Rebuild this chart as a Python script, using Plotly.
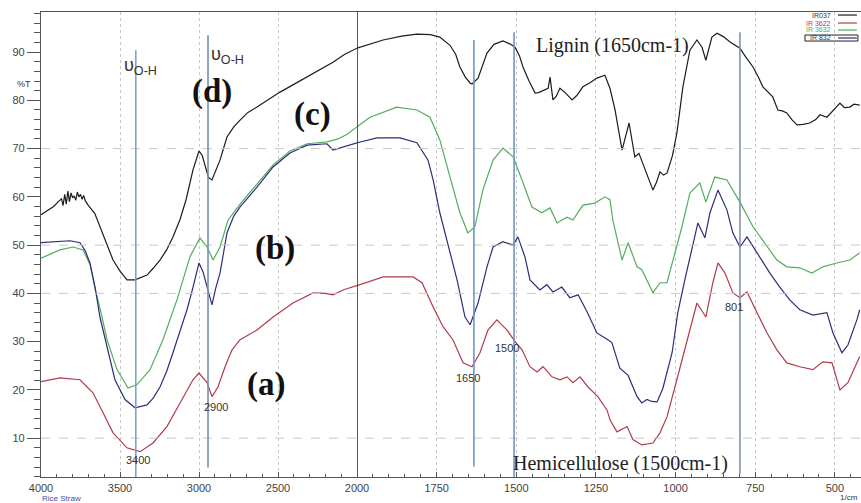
import plotly.graph_objects as go

# ---------------- data (wavenumber cm-1, %T) ----------------
wn_black = [4000, 3960, 3920, 3890, 3870, 3860, 3850, 3840, 3830, 3820, 3810, 3800, 3790, 3780, 3770, 3760,
            3750, 3740, 3730, 3720, 3702, 3660, 3627, 3585, 3544, 3500, 3456, 3405, 3370, 3329, 3290, 3247,
            3205, 3165, 3120, 3082, 3038, 3015, 3000, 2980, 2960, 2940, 2918, 2895, 2867, 2823, 2780, 2740,
            2690, 2633, 2560, 2487, 2400, 2316, 2230, 2152, 2080, 2000,
            1918, 1860, 1812, 1770, 1740, 1708, 1690, 1677, 1660, 1645, 1639, 1620, 1605, 1592, 1570, 1542,
            1520, 1504, 1490, 1479, 1460, 1441, 1430, 1416, 1400, 1394, 1385, 1375, 1363, 1345, 1325, 1310,
            1291, 1270, 1247, 1222, 1206, 1190, 1168, 1146, 1128, 1115, 1103, 1085, 1071, 1060, 1049, 1038,
            1027, 1010, 996, 977, 955, 933, 917, 905, 895, 886, 870, 850, 829, 815, 798, 780, 757, 740, 726,
            695, 679, 665, 651, 635, 619, 600, 579, 560, 547, 525, 505, 484, 470, 453, 440, 422]
t_black = [56.3, 57.2, 58.0, 59.0, 59.6, 58.2, 60.5, 58.5, 61.2, 59.0, 60.8, 59.8, 60.2, 59.3, 61.0, 60.0,
           60.5, 59.5, 60.3, 59.2, 58.3, 56.6, 53.8, 50.5, 46.9, 44.6, 42.8, 42.8, 43.2, 43.8, 45.2, 46.9,
           49.0, 51.7, 55.3, 59.4, 65.6, 68.3, 69.5, 68.6, 66.0, 64.0, 63.5, 65.2, 67.6, 72.4, 74.5, 75.9,
           77.5, 78.6, 80.2, 81.7, 83.3, 84.8, 86.4, 87.9, 89.5, 90.8,
           92.5, 93.3, 93.7, 93.6, 93.1, 91.4, 89.5, 86.9, 84.8, 83.6, 83.4, 84.6, 87.5, 89.8, 91.6, 92.3,
           91.7, 91.0, 89.2, 86.9, 84.0, 81.5, 81.6, 82.1, 82.5, 84.8, 80.1, 80.8, 82.5, 81.5, 80.1, 81.0,
           82.8, 83.6, 84.6, 85.2, 82.5, 78.0, 69.7, 75.3, 68.3, 69.0, 67.0, 64.0, 61.4, 63.0, 65.2, 64.5,
           64.9, 68.5, 73.2, 82.8, 90.4, 92.5, 91.0, 88.3, 91.0, 93.1, 93.9, 93.2, 92.1, 91.5, 90.8, 89.0,
           86.9, 84.8, 82.8, 80.7, 78.0, 77.8, 77.4, 76.0, 74.9, 75.0, 75.3, 76.0, 77.0, 76.5, 78.0, 79.4,
           78.5, 78.6, 79.2, 79.0]

wn_blue = [4000, 3900, 3816, 3753, 3720, 3690, 3658, 3627, 3582, 3532, 3468, 3405, 3329, 3290, 3247, 3205,
           3165, 3120, 3076, 3040, 3000, 2975, 2949, 2918, 2895, 2867, 2823, 2780, 2740, 2633, 2531, 2424,
           2316, 2190, 2152, 2108, 2000,
           1937, 1865, 1812, 1777, 1761, 1740, 1718, 1686, 1661, 1645, 1620, 1592, 1573, 1542, 1510, 1495,
           1473, 1457, 1426, 1404, 1385, 1357, 1332, 1306, 1278, 1247, 1215, 1200, 1175, 1149, 1121, 1106,
           1090, 1075, 1058, 1040, 1011, 993, 971, 946, 930, 908, 892, 867, 839, 820, 798, 776, 745, 704,
           673, 641, 610, 569, 525, 506, 478, 459, 431, 422]
t_blue = [50.5, 50.8, 50.9, 50.5, 48.8, 46.3, 41.3, 35.1, 28.9, 22.1, 18.0, 16.3, 16.9, 18.3, 20.6, 23.8,
          27.7, 32.0, 36.6, 41.0, 46.3, 44.5, 41.3, 37.6, 41.0, 44.2, 52.5, 56.0, 57.9, 62.0, 66.2, 69.1,
          70.7, 71.0, 69.7, 70.1, 71.2,
          72.2, 72.2, 71.2, 67.6, 63.5, 56.7, 51.1, 42.8, 35.1, 33.5, 38.0, 45.5, 49.6, 50.7, 50.0, 51.7,
          47.6, 42.8, 40.7, 41.8, 40.3, 41.3, 39.1, 39.7, 36.2, 31.8, 30.5, 29.8, 24.5, 23.0, 18.6, 17.3,
          18.0, 17.6, 17.5, 20.3, 27.7, 36.0, 42.8, 49.6, 54.6, 51.5, 56.7, 61.4, 57.3, 52.5, 49.6, 51.7,
          48.4, 44.2, 41.3, 38.6, 36.6, 35.5, 36.0, 31.8, 27.7, 29.3, 34.5, 36.6]

wn_green = [4000, 3880, 3797, 3734, 3690, 3658, 3620, 3582, 3519, 3449, 3392, 3310, 3228, 3139, 3057, 2994,
            2949, 2911, 2867, 2816, 2740, 2633, 2531, 2424, 2316, 2190, 2120, 2060, 2000,
            1959, 1875, 1812, 1771, 1740, 1708, 1677, 1652, 1630, 1605, 1573, 1542, 1510, 1482, 1451, 1420,
            1394, 1372, 1341, 1322, 1291, 1253, 1222, 1206, 1197, 1168, 1149, 1121, 1106, 1071, 1049, 1027,
            1008, 980, 955, 924, 905, 877, 839, 798, 757, 713, 682, 651, 610, 572, 538, 494, 453, 422]
t_green = [47.3, 49.0, 49.6, 49.0, 46.0, 41.0, 36.0, 30.4, 24.2, 20.4, 21.1, 24.2, 30.4, 38.7, 47.6, 51.5,
           49.6, 46.9, 49.6, 55.2, 58.5, 62.6, 66.6, 69.5, 71.0, 71.4, 72.0, 73.0, 74.5,
           76.5, 78.6, 78.0, 76.5, 71.8, 64.1, 56.7, 52.5, 53.8, 61.4, 67.6, 70.1, 68.3, 63.5, 57.9, 56.7,
           57.7, 54.6, 55.8, 55.2, 58.3, 58.7, 60.0, 59.4, 55.2, 46.9, 50.5, 45.5, 44.9, 40.1, 42.2, 42.2,
           46.9, 53.8, 60.8, 62.9, 58.9, 64.1, 63.5, 58.9, 53.8, 49.6, 46.9, 45.5, 45.3, 44.2, 45.5, 46.3,
           46.9, 48.4]

wn_red = [4000, 3880, 3753, 3671, 3608, 3544, 3456, 3373, 3291, 3203, 3120, 3038, 3000, 2949, 2918, 2880,
          2835, 2791, 2740, 2633, 2531, 2405, 2278, 2200, 2152, 2080, 2000,
          1918, 1824, 1796, 1761, 1730, 1699, 1667, 1639, 1614, 1589, 1561, 1529, 1504, 1482, 1457, 1435,
          1416, 1388, 1363, 1341, 1322, 1300, 1275, 1244, 1215, 1206, 1184, 1152, 1134, 1106, 1071, 1049,
          1027, 996, 964, 933, 905, 883, 867, 845, 820, 798, 776, 745, 713, 682, 651, 610, 569, 538, 509,
          484, 459, 422]
t_red = [21.7, 22.5, 22.1, 19.4, 15.3, 11.1, 8.0, 7.2, 9.0, 12.4, 17.3, 22.1, 23.5, 21.5, 18.6, 20.6,
         24.8, 28.3, 30.4, 32.4, 35.1, 38.0, 40.1, 40.0, 39.7, 40.8, 41.6,
         43.4, 43.4, 42.2, 37.2, 33.1, 30.4, 25.6, 24.8, 27.7, 32.4, 34.5, 32.4, 30.0, 28.3, 24.8, 23.7,
         24.8, 22.7, 22.1, 22.7, 21.5, 22.7, 20.6, 18.6, 15.8, 13.8, 11.3, 12.4, 9.7, 8.6, 9.0, 11.1,
         14.4, 22.1, 30.4, 38.0, 35.1, 42.2, 46.3, 44.2, 40.1, 39.1, 40.3, 36.0, 31.8, 28.3, 25.6, 24.8,
         24.2, 25.8, 25.6, 20.0, 21.5, 26.9]

series_names = ["IR037", "IR 3622", "IR 3632", "IR 832"]
x_ticks_left = [4000, 3500, 3000, 2500]
x_ticks_right = [2000, 1750, 1500, 1250, 1000, 750, 500]
y_ticks = [10, 20, 30, 40, 50, 60, 70, 80, 90]
marker_lines = [(3400, "x"), (2943, "x"), (1633, "x2"), (1507, "x2"), (798, "x2")]
peak_labels = [("3400", 3386, 5.5, "x"), ("2900", 2892, 16.5, "x"), ("1650", 1652, 22.5, "x2"),
               ("1500", 1529, 28.7, "x2"), ("801", 818, 37.2, "x2")]
curve_labels = [("(d)", 2918, 81.9), ("(c)", 2279, 77.0), ("(b)", 2519, 49.4), ("(a)", 2576, 21.1)]

SPLIT = 2000
colors = {"IR037": "#1c1c1c", "IR 3622": "#b03c4c", "IR 3632": "#52ad5c", "IR 832": "#2d2d7a"}
data = {"IR037": (wn_black, t_black), "IR 3622": (wn_red, t_red),
        "IR 3632": (wn_green, t_green), "IR 832": (wn_blue, t_blue)}

fig = go.Figure()
for name in ["IR 3622", "IR 3632", "IR 832", "IR037"]:
    wn, t = data[name]
    lx = [w for w in wn if w >= SPLIT]
    ly = [v for w, v in zip(wn, t) if w >= SPLIT]
    rx = [w for w in wn if w <= SPLIT]
    ry = [v for w, v in zip(wn, t) if w <= SPLIT]
    fig.add_trace(go.Scatter(x=lx, y=ly, mode="lines", line=dict(color=colors[name], width=1.2),
                             xaxis="x", yaxis="y", showlegend=False, name=name))
    fig.add_trace(go.Scatter(x=rx, y=ry, mode="lines", line=dict(color=colors[name], width=1.2),
                             xaxis="x2", yaxis="y", showlegend=False, name=name))

split_frac = (357 - 41) / 820
tickfont = dict(family="Liberation Sans, Arial", size=11, color="#444")
axis_common = dict(showline=True, linecolor="#555", linewidth=1.2, mirror=True, ticks="inside",
                   ticklen=5, tickcolor="#555", tickfont=tickfont, showgrid=True, gridcolor="#c8c8c8",
                   griddash="dot", gridwidth=1, zeroline=False, ticklabelstandoff=1)

fig.update_layout(
    width=861, height=503,
    margin=dict(l=41, r=0, t=12, b=26),
    paper_bgcolor="white", plot_bgcolor="white",
    xaxis=dict(domain=[0, split_frac], range=[4000, 2000], tickvals=x_ticks_left, anchor="y",
               minor=dict(dtick=100, tick0=4000, ticks="inside", ticklen=3, tickcolor="#555", showgrid=False),
               **axis_common),
    xaxis2=dict(domain=[split_frac, 1], range=[2000, 418], tickvals=x_ticks_right, anchor="y",
                minor=dict(dtick=50, tick0=2000, ticks="inside", ticklen=3, tickcolor="#555", showgrid=False),
                **axis_common),
    yaxis=dict(range=[1.95, 98.3], tickvals=y_ticks, showline=True, linecolor="#555", linewidth=1.2,
               ticks="outside", ticklen=13, tickcolor="#555", tickfont=tickfont, showgrid=False,
               zeroline=False,
               minor=dict(dtick=2, tick0=0, ticks="outside", ticklen=6, tickcolor="#555")),
)

shapes = []
for yv in [10, 40, 50, 70]:
    shapes.append(dict(type="line", xref="paper", yref="y", x0=0, x1=1, y0=yv, y1=yv,
                       line=dict(color="#c8c8c8", width=1, dash="dash")))
shapes.append(dict(type="line", xref="x2", yref="paper", x0=2000, x1=2000, y0=0, y1=1,
                   line=dict(color="#222", width=1.5)))
tops = {3400: 90.4, 2943: 93.5, 1633: 92.5, 1507: 94.1, 798: 94.1}
bots = {3400: 1.95, 2943: 3.9, 1633: 4.1, 1507: 1.95, 798: 2.5}
lcol = {3400: "#7ba3cc", 2943: "#7590b0", 1633: "#6f96c0", 1507: "#6f96c0", 798: "#8294ae"}
for wv, xr in marker_lines:
    shapes.append(dict(type="line", xref=xr, yref="y", x0=wv, x1=wv, y0=bots[wv], y1=tops[wv],
                       line=dict(color=lcol[wv], width=1.6)))

# legend box (tiny, top right)
leg_y = [0.9935, 0.9763, 0.9613, 0.9441]
leg_cols = ["#1c1c1c", "#b03c4c", "#52ad5c", "#2d2d7a"]
for yv, c in zip(leg_y, leg_cols):
    shapes.append(dict(type="line", xref="paper", yref="paper", x0=0.972, x1=0.995, y0=yv, y1=yv,
                       line=dict(color=c, width=1.2)))
shapes.append(dict(type="rect", xref="paper", yref="paper", x0=0.9317, x1=0.9963, y0=0.9376, y1=0.9505,
                   line=dict(color="#222", width=1)))
fig.update_layout(shapes=shapes)

ann = []
serif = "Liberation Serif, Times New Roman, serif"
sans = "Liberation Sans, Arial, sans-serif"
ann.append(dict(text="υ<sub>O-H</sub>", x=3487, y=87.1, xref="x", yref="y", xanchor="left",
                yanchor="middle", showarrow=False, font=dict(family=sans, size=18, color="#333")))
ann.append(dict(text="υ<sub>O-H</sub>", x=2937, y=89.2, xref="x", yref="y", xanchor="left",
                yanchor="middle", showarrow=False, font=dict(family=sans, size=18, color="#333")))
for txt, xv, yv in curve_labels:
    ann.append(dict(text="<b>" + txt + "</b>", x=xv, y=yv, xref="x", yref="y", showarrow=False,
                    font=dict(family=serif, size=33, color="#111")))
ann.append(dict(text="Lignin (1650cm-1)", x=1197, y=91.4, xref="x2", yref="y", showarrow=False,
                font=dict(family=serif, size=20, color="#222")))
ann.append(dict(text="Hemicellulose (1500cm-1)", x=1172, y=4.7, xref="x2", yref="y", showarrow=False,
                font=dict(family=serif, size=20, color="#222")))
for txt, xv, yv, xr in peak_labels:
    ann.append(dict(text=txt, x=xv, y=yv, xref=xr, yref="y", showarrow=False,
                    font=dict(family=sans, size=11, color="#333")))
ann.append(dict(text="%T", x=-0.0317, y=0.860, xref="paper", yref="paper", showarrow=False,
                font=dict(family=sans, size=9, color="#333")))
ann.append(dict(text="Rice Straw", x=-0.0012, y=-0.0465, xref="paper", yref="paper", xanchor="left",
                yanchor="middle", showarrow=False, font=dict(family=sans, size=8, color="#3355aa")))
ann.append(dict(text="1/cm", x=0.9988, y=-0.044, xref="paper", yref="paper", xanchor="right",
                yanchor="middle", showarrow=False, font=dict(family=sans, size=8, color="#333")))
for nm, yv, c in zip(series_names, leg_y, ["#333", "#b03c4c", "#52ad5c", "#333"]):
    ann.append(dict(text=nm, x=0.9659, y=yv, xref="paper", yref="paper", xanchor="right",
                    yanchor="middle", showarrow=False, font=dict(family=sans, size=7, color=c)))
fig.update_layout(annotations=ann)

fig.write_html("out.html")
